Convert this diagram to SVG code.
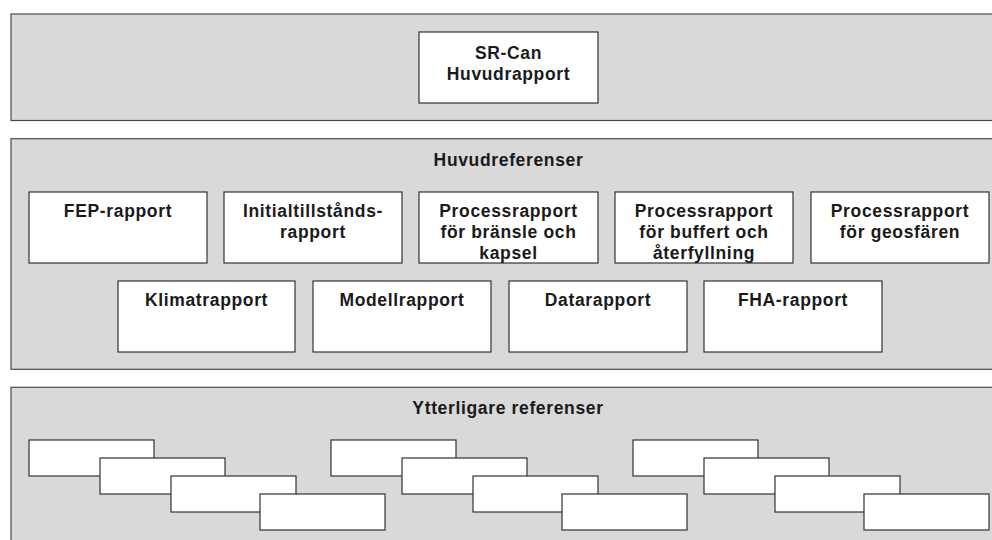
<svg xmlns="http://www.w3.org/2000/svg" width="992" height="540" viewBox="0 0 992 540">
<style>
.panel{fill:#d9d9d9;stroke:#4a4a4a;stroke-width:1.2}
.box{fill:#ffffff;stroke:#333333;stroke-width:1.2}
.t{font-family:"Liberation Sans",Arial,Helvetica,sans-serif;font-weight:bold;font-size:17.5px;letter-spacing:0.65px;fill:#1a1a1a;text-anchor:middle}
</style>
<rect width="992" height="540" fill="#ffffff"/>
<g id="panel-top">
<rect class="panel" x="11" y="14" width="990" height="106.5"/>
</g>
<g id="panel-huvudreferenser">
<rect class="panel" x="11" y="138.7" width="990" height="230.6"/>
<text class="t" x="508.5" y="166">Huvudreferenser</text>
</g>
<g id="panel-ytterligare">
<rect class="panel" x="11" y="387.3" width="990" height="170"/>
<text class="t" x="508" y="413.5">Ytterligare referenser</text>
</g>
<g id="n-srcan">
<rect class="box" x="419" y="32" width="179" height="71"/>
<text class="t" x="508.5" y="58.5">SR-Can</text>
<text class="t" x="508.5" y="80">Huvudrapport</text>
</g>
<g id="n-fep">
<rect class="box" x="29" y="192" width="178" height="71"/>
<text class="t" x="118" y="216.5">FEP-rapport</text>
</g>
<g id="n-initial">
<rect class="box" x="224" y="192" width="178" height="71"/>
<text class="t" x="313" y="216.5">Initialtillstånds-</text>
<text class="t" x="313" y="237.5">rapport</text>
</g>
<g id="n-process-bransle">
<rect class="box" x="419" y="192" width="179" height="71"/>
<text class="t" x="508.5" y="216.5">Processrapport</text>
<text class="t" x="508.5" y="237.5">för bränsle och</text>
<text class="t" x="508.5" y="258.5">kapsel</text>
</g>
<g id="n-process-buffert">
<rect class="box" x="615" y="192" width="178" height="71"/>
<text class="t" x="704" y="216.5">Processrapport</text>
<text class="t" x="704" y="237.5">för buffert och</text>
<text class="t" x="704" y="258.5">återfyllning</text>
</g>
<g id="n-process-geosfaren">
<rect class="box" x="811" y="192" width="178" height="71"/>
<text class="t" x="900" y="216.5">Processrapport</text>
<text class="t" x="900" y="237.5">för geosfären</text>
</g>
<g id="n-klimat">
<rect class="box" x="118" y="281" width="177" height="71"/>
<text class="t" x="206.5" y="306">Klimatrapport</text>
</g>
<g id="n-modell">
<rect class="box" x="313" y="281" width="178" height="71"/>
<text class="t" x="402" y="306">Modellrapport</text>
</g>
<g id="n-data">
<rect class="box" x="509" y="281" width="178" height="71"/>
<text class="t" x="598" y="306">Datarapport</text>
</g>
<g id="n-fha">
<rect class="box" x="704" y="281" width="178" height="71"/>
<text class="t" x="793" y="306">FHA-rapport</text>
</g>
<g id="n-stack1">
<rect class="box" x="29" y="440" width="125" height="36"/>
<rect class="box" x="100" y="458" width="125" height="36"/>
<rect class="box" x="171" y="476" width="125" height="36"/>
<rect class="box" x="260" y="494" width="125" height="36"/>
</g>
<g id="n-stack2">
<rect class="box" x="331" y="440" width="125" height="36"/>
<rect class="box" x="402" y="458" width="125" height="36"/>
<rect class="box" x="473" y="476" width="125" height="36"/>
<rect class="box" x="562" y="494" width="125" height="36"/>
</g>
<g id="n-stack3">
<rect class="box" x="633" y="440" width="125" height="36"/>
<rect class="box" x="704" y="458" width="125" height="36"/>
<rect class="box" x="775" y="476" width="125" height="36"/>
<rect class="box" x="864" y="494" width="125" height="36"/>
</g>
<g id="connectors"></g>
</svg>
